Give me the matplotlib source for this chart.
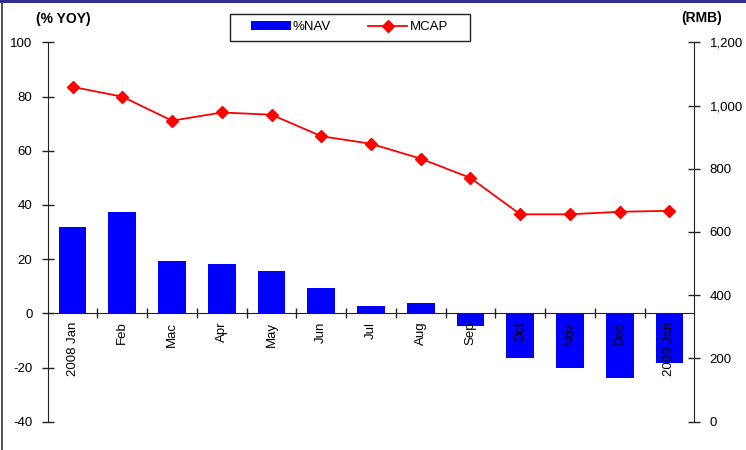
import matplotlib
matplotlib.use("Agg")
import matplotlib.pyplot as plt
from matplotlib.lines import Line2D
from matplotlib.patches import Patch
import numpy as np

plt.rcParams['font.family'] = ['Liberation Sans', 'DejaVu Sans']

categories = ["2008 Jan", "Feb", "Mac", "Apr", "May", "Jun", "Jul", "Aug",
              "Sep", "Oct", "Nov", "Dec", "2009 Jan"]
nav_yoy = [31.8, 37.4, 19.3, 18.2, 15.6, 9.3, 2.7, 3.8, -4.6, -16.4, -20.1, -23.8, -18.2]
mcap = [1059, 1028, 952, 978, 971, 903, 879, 832, 771, 656, 656, 664, 667]
left_ticks = [-40, -20, 0, 20, 40, 60, 80, 100]
right_ticks = [0, 200, 400, 600, 800, 1000, 1200]

fig = plt.figure(figsize=(7.46, 4.5), dpi=100)
ax = fig.add_axes([47.7/746, 1-421.7/450, (694.3-47.7)/746, (421.7-42.3)/450])
ax2 = ax.twinx()

x = np.arange(len(categories))
ax.bar(x, nav_yoy, width=0.56, color='#0000FF', zorder=1)
ax2.plot(x, mcap, color='#FF0000', lw=1.3, marker='D', ms=6, mec='#FF0000', mfc='#FF0000')

ax.set_xlim(-0.5, len(categories) - 0.5)
ax.set_ylim(-40, 100)
ax2.set_ylim(0, 1200)

spine_color = '#222222'
for s in ['top', 'right']:
    ax.spines[s].set_visible(False)
ax.spines['left'].set_color(spine_color)
ax.spines['bottom'].set_position(('data', 0))
ax.spines['bottom'].set_color(spine_color)
for s in ['top', 'bottom', 'left']:
    ax2.spines[s].set_visible(False)
ax2.spines['right'].set_color(spine_color)

ax.set_yticks(left_ticks)
ax.set_yticklabels([str(v) for v in left_ticks])
ax.tick_params(axis='y', direction='inout', length=8, width=1, color=spine_color,
               labelsize=9.5, pad=7)
ax2.set_yticks(right_ticks)
ax2.set_yticklabels([f"{v:,}" for v in right_ticks])
ax2.tick_params(axis='y', direction='inout', length=8, width=1, color=spine_color,
                labelsize=9.5, pad=7)

ax.set_xticks(x)
ax.set_xticklabels(categories, rotation=90, ha='center', va='top', fontsize=9.5)
ax.tick_params(axis='x', which='major', length=0, pad=6)
ax.set_xticks(np.arange(0.5, len(categories) - 0.5, 1), minor=True)
ax.tick_params(axis='x', which='minor', direction='inout', length=7, width=1, color=spine_color)

fig.text(63/746, 1-19/450, "(% YOY)", ha='center', va='center', fontsize=10, fontweight='bold')
fig.text(702/746, 1-18/450, "(RMB)", ha='center', va='center', fontsize=10, fontweight='bold')

handles = [Patch(facecolor='#0000FF', edgecolor='none'),
           Line2D([0], [0], color='#FF0000', lw=1.3, marker='D', ms=6)]
leg = fig.legend(handles, ['%NAV', 'MCAP'], loc='center',
                 bbox_to_anchor=(349.5/746, 1-27/450), ncol=2, frameon=False,
                 fontsize=9.5, handlelength=3.0, handletextpad=0.15,
                 columnspacing=2.8, borderpad=0.3, handleheight=0.6)
fig.add_artist(plt.Rectangle((229.5/746, 1-40.7/450), (470-229.5)/746, (40.7-14)/450,
                             transform=fig.transFigure, fill=False,
                             edgecolor='#222222', lw=1))

# frame decorations
fig.add_artist(plt.Rectangle((0, 1-3/450), 1, 3/450, transform=fig.transFigure,
                             color='#2E3192', lw=0))
fig.add_artist(Line2D([1.5/746, 1.5/746], [0, 1-3/450], transform=fig.transFigure,
                      color='#333333', lw=1.2))

fig.savefig("out.png", dpi=100)
